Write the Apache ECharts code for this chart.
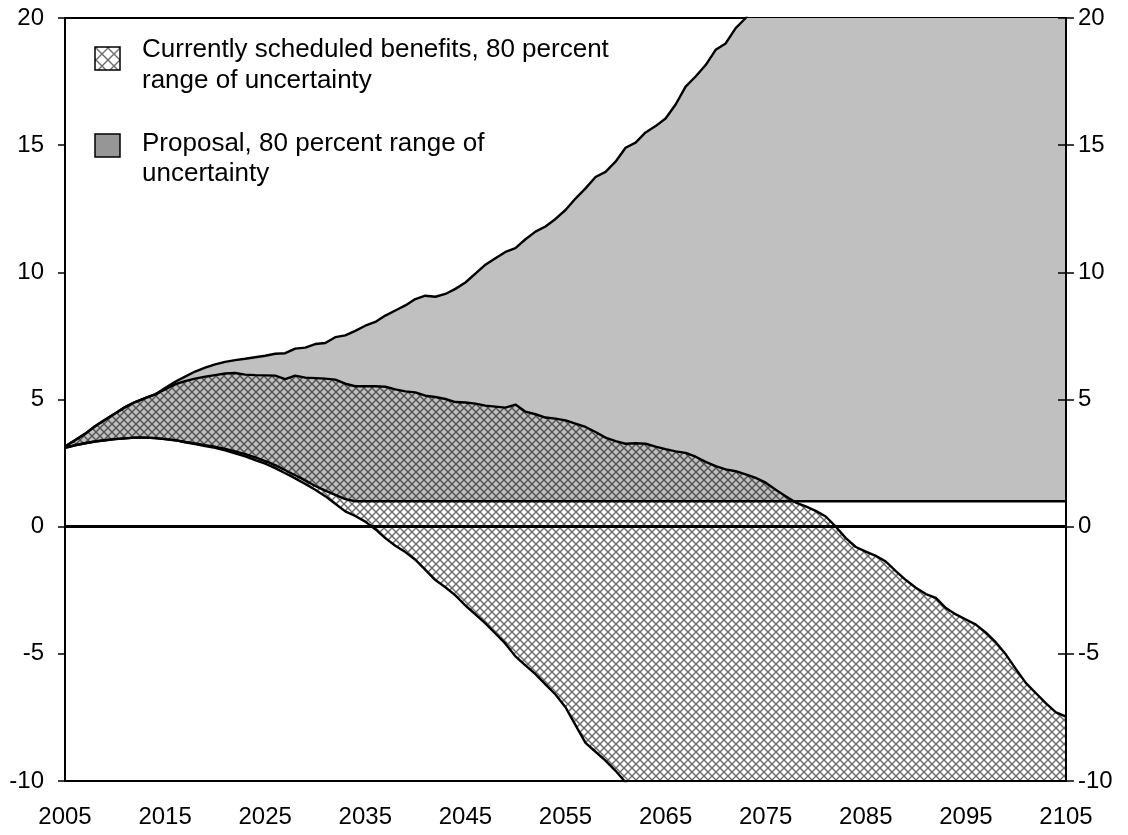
<!DOCTYPE html>
<html>
<head>
<meta charset="utf-8">
<script src="https://cdn.jsdelivr.net/npm/echarts@6/dist/echarts.min.js"></script>
<style>
    html, body { margin: 0; padding: 0; background: #fff; }
    #chart { width: 1128px; height: 835px; }
</style>
</head>
<body>
<div id="chart"></div>
<script type="text/javascript">

    // years 2005..2105, one value per year
    var years = [];
    for (var yr = 2005; yr <= 2105; yr++) years.push(String(yr));

    // proposal, upper bound of 80% range (runs off the top after 2073)
    var propHigh = [
        3.15, 3.4, 3.65, 3.95, 4.2, 4.45, 4.7, 4.9, 5.05, 5.2,
        5.45, 5.7, 5.9, 6.1, 6.25, 6.38, 6.48, 6.55, 6.6, 6.66,
        6.72, 6.8, 6.82, 7.0, 7.04, 7.18, 7.22, 7.45, 7.52, 7.7,
        7.9, 8.05, 8.3, 8.5, 8.7, 8.95, 9.08, 9.04, 9.15, 9.35,
        9.6, 9.95, 10.3, 10.55, 10.8, 10.95, 11.3, 11.6, 11.8, 12.1,
        12.45, 12.9, 13.3, 13.75, 13.95, 14.35, 14.9, 15.1, 15.5, 15.75,
        16.05, 16.6, 17.3, 17.7, 18.15, 18.75, 19.0, 19.6, 20.0, 20.6,
        21.1, 21.6, 22.2, 22.7, 23.3, 23.8, 24.4, 24.9, 25.5, 26.0,
        26.6, 27.1, 27.7, 28.2, 28.8, 29.3, 29.9, 30.4, 31.0, 31.5,
        32.1, 32.6, 33.2, 33.7, 34.3, 34.8, 35.4, 35.9, 36.5, 37.0,
        37.6
    ];

    // proposal, lower bound (floors at 1 percent)
    var propLow = [
        3.1, 3.2, 3.28, 3.35, 3.4, 3.44, 3.47, 3.5, 3.5, 3.48,
        3.44, 3.4, 3.33, 3.27, 3.2, 3.14, 3.06, 2.96, 2.85, 2.72,
        2.58, 2.42, 2.22, 2.02, 1.82, 1.6, 1.42, 1.25, 1.08, 1.0,
        1.0, 1.0, 1.0, 1.0, 1.0, 1.0, 1.0, 1.0, 1.0, 1.0,
        1.0, 1.0, 1.0, 1.0, 1.0, 1.0, 1.0, 1.0, 1.0, 1.0,
        1.0, 1.0, 1.0, 1.0, 1.0, 1.0, 1.0, 1.0, 1.0, 1.0,
        1.0, 1.0, 1.0, 1.0, 1.0, 1.0, 1.0, 1.0, 1.0, 1.0,
        1.0, 1.0, 1.0, 1.0, 1.0, 1.0, 1.0, 1.0, 1.0, 1.0,
        1.0, 1.0, 1.0, 1.0, 1.0, 1.0, 1.0, 1.0, 1.0, 1.0,
        1.0, 1.0, 1.0, 1.0, 1.0, 1.0, 1.0, 1.0, 1.0, 1.0,
        1.0
    ];

    // currently scheduled benefits, upper bound
    var curHigh = [
        3.15, 3.4, 3.65, 3.95, 4.2, 4.45, 4.7, 4.9, 5.05, 5.2,
        5.4, 5.6, 5.72, 5.82, 5.9, 5.96, 6.02, 6.04, 5.98, 5.96,
        5.95, 5.94, 5.8, 5.94, 5.86, 5.84, 5.82, 5.78, 5.62, 5.52,
        5.52, 5.52, 5.5, 5.4, 5.32, 5.28, 5.15, 5.1, 5.02, 4.9,
        4.88, 4.84, 4.76, 4.72, 4.68, 4.8, 4.52, 4.42, 4.29, 4.25,
        4.18, 4.05, 3.92, 3.72, 3.5, 3.36, 3.26, 3.28, 3.26, 3.15,
        3.05, 2.96, 2.9, 2.75, 2.55, 2.38, 2.25, 2.18, 2.06, 1.92,
        1.73, 1.45, 1.2, 0.95, 0.8, 0.62, 0.4, 0.0, -0.45, -0.8,
        -0.98, -1.15, -1.37, -1.75, -2.1, -2.4, -2.65, -2.8, -3.2, -3.45,
        -3.65, -3.85, -4.17, -4.55, -5.03, -5.6, -6.15, -6.55, -6.95, -7.3,
        -7.47
    ];

    // currently scheduled benefits, lower bound (runs off the bottom after 2061)
    var curLow = [
        3.1, 3.2, 3.28, 3.35, 3.4, 3.44, 3.47, 3.5, 3.5, 3.48,
        3.44, 3.4, 3.32, 3.25, 3.17, 3.1, 3.0, 2.88, 2.76, 2.62,
        2.48, 2.3, 2.1, 1.9, 1.68, 1.45, 1.2, 0.9, 0.6, 0.42,
        0.2, -0.1, -0.45, -0.75, -1.0, -1.3, -1.7, -2.1, -2.38, -2.7,
        -3.1, -3.45, -3.8, -4.2, -4.6, -5.1, -5.45, -5.8, -6.2, -6.6,
        -7.1, -7.8, -8.5, -8.85, -9.2, -9.6, -10.05, -10.6, -11.1, -11.7,
        -12.2, -12.8, -13.3, -13.9, -14.4, -15.0, -15.5, -16.1, -16.6, -17.2,
        -17.7, -18.3, -18.8, -19.4, -19.9, -20.5, -21.0, -21.6, -22.1, -22.7,
        -23.2, -23.8, -24.3, -24.9, -25.4, -26.0, -26.5, -27.1, -27.6, -28.2,
        -28.7, -29.3, -29.8, -30.4, -30.9, -31.5, -32.0, -32.6, -33.1, -33.7,
        -34.2
    ];

    var yTicks = { min: -10, max: 20, interval: 5 };

    var FONT = '"Liberation Sans", Arial, Helvetica, sans-serif';

    // band widths for stacking
    var propWidth = [], overlapWidth = [], curWidth = [];
    for (var i = 0; i < years.length; i++) {
        propWidth.push(+(propHigh[i] - propLow[i]).toFixed(3));
        var top = Math.min(curHigh[i], propHigh[i]);
        overlapWidth.push(+Math.max(top - propLow[i], 0).toFixed(3));
        curWidth.push(+(curHigh[i] - curLow[i]).toFixed(3));
    }

    function hatch(size, bg) {
        var c = document.createElement('canvas');
        c.width = size; c.height = size;
        var g = c.getContext('2d');
        if (bg) { g.fillStyle = bg; g.fillRect(0, 0, size, size); }
        g.strokeStyle = 'rgba(0,0,0,0.58)';
        g.lineWidth = 1.4;
        g.beginPath();
        g.moveTo(-1, -1); g.lineTo(size + 1, size + 1);
        g.moveTo(size + 1, -1); g.lineTo(-1, size + 1);
        g.stroke();
        return c;
    }

    var hatchFill = { image: hatch(8), repeat: 'repeat' };
    var swatchFill = { image: hatch(12, '#fff'), repeat: 'repeat' };

    function baseSeries(stack, data) {
        return {
            type: 'line', stack: stack, stackStrategy: 'all', data: data,
            symbol: 'none', silent: true, z: 2,
            lineStyle: { width: 0, opacity: 0 }
        };
    }

    function bandSeries(stack, data, fill, z) {
        return {
            type: 'line', stack: stack, stackStrategy: 'all', data: data,
            symbol: 'none', silent: true, z: z,
            lineStyle: { width: 0, opacity: 0 },
            areaStyle: { color: fill, opacity: 1 }
        };
    }

    function edge(data) {
        return {
            type: 'line', data: data, symbol: 'none', silent: true, z: 4,
            lineStyle: { color: '#000', width: 2.4 }
        };
    }

    var chart = echarts.init(document.getElementById('chart'));

    var zeroLine = edge(curLow);
    zeroLine.markLine = {
        silent: true, symbol: 'none', animation: false,
        label: { show: false },
        lineStyle: { color: '#000', width: 3, type: 'solid' },
        data: [{ yAxis: 0 }]
    };

    chart.setOption({
        animation: false,
        backgroundColor: '#fff',
        grid: {
            left: 65, right: 62, top: 18, bottom: 54,
            show: true, borderColor: '#000', borderWidth: 2
        },
        xAxis: {
            type: 'category', data: years, boundaryGap: false, z: 10,
            axisLine: { lineStyle: { color: '#000', width: 2 } },
            axisTick: { show: false },
            axisLabel: { interval: 9, color: '#000', fontSize: 24, fontFamily: FONT, margin: 24 },
            splitLine: { show: false }
        },
        yAxis: [
            {
                type: 'value', position: 'left', min: yTicks.min, max: yTicks.max, interval: yTicks.interval, z: 10,
                axisLine: { show: true, lineStyle: { color: '#000', width: 2 } },
                axisTick: { show: true, length: 7, lineStyle: { color: '#000', width: 1.5 } },
                axisLabel: { color: '#000', fontSize: 24, fontFamily: FONT, margin: 21 },
                splitLine: { show: false }
            },
            {
                type: 'value', position: 'right', min: yTicks.min, max: yTicks.max, interval: yTicks.interval, z: 10,
                axisLine: { show: true, lineStyle: { color: '#000', width: 2 } },
                axisTick: { show: true, length: 8, lineStyle: { color: '#000', width: 1.5 } },
                axisLabel: { color: '#000', fontSize: 24, fontFamily: FONT, margin: 12 },
                splitLine: { show: false }
            },
            {
                type: 'value', position: 'right', min: yTicks.min, max: yTicks.max, interval: yTicks.interval, z: 10,
                axisLine: { show: false },
                axisTick: { show: true, inside: true, length: 8, lineStyle: { color: '#000', width: 1.5 } },
                axisLabel: { show: false },
                splitLine: { show: false }
            }
        ],
        series: [
            baseSeries('prop', propLow),
            bandSeries('prop', propWidth, '#c0c0c0', 2),
            baseSeries('both', propLow),
            bandSeries('both', overlapWidth, '#969696', 2),
            baseSeries('cur', curLow),
            bandSeries('cur', curWidth, hatchFill, 3),
            edge(propHigh),
            edge(curHigh),
            edge(propLow),
            zeroLine
        ],
        graphic: [
            {
                type: 'rect', z: 20,
                shape: { x: 95, y: 47, width: 25, height: 23 },
                style: { fill: swatchFill, stroke: '#000', lineWidth: 1.5 }
            },
            {
                type: 'text', z: 20, left: 142, top: 34,
                style: {
                    text: 'Currently scheduled benefits, 80 percent\nrange of uncertainty',
                    font: '26px ' + FONT, fill: '#000', lineHeight: 31
                }
            },
            {
                type: 'rect', z: 20,
                shape: { x: 95, y: 134, width: 25, height: 23 },
                style: { fill: '#969696', stroke: '#000', lineWidth: 1.5 }
            },
            {
                type: 'text', z: 20, left: 142, top: 129,
                style: {
                    text: 'Proposal, 80 percent range of\nuncertainty',
                    font: '26px ' + FONT, fill: '#000', lineHeight: 30
                }
            }
        ]
    });
</script>
</body>
</html>
